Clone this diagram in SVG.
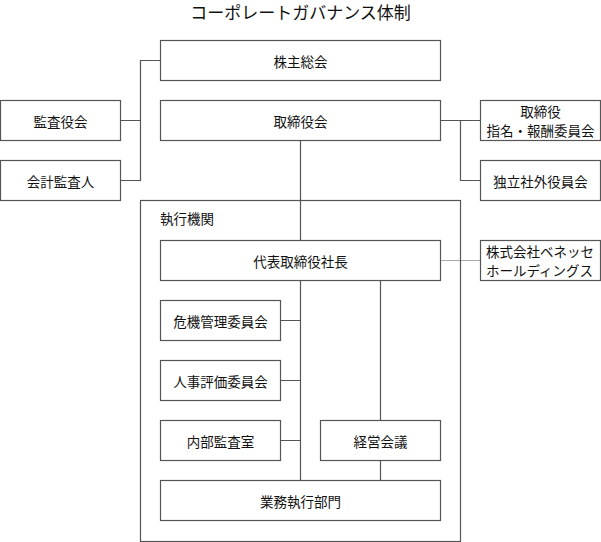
<svg xmlns="http://www.w3.org/2000/svg" width="601" height="542" viewBox="0 0 601 542">
<style>
.b{fill:#fff;stroke:#555;stroke-width:1.2}
.l{fill:none;stroke:#555;stroke-width:1.2}
.d{fill:none;stroke:#555;stroke-width:1;stroke-dasharray:1 1}
text{font-family:"Noto Sans CJK JP","Noto Sans CJK SC",sans-serif;font-size:13.5px;fill:#111;text-anchor:middle;dominant-baseline:central}
.t{font-size:17px}
.s{text-anchor:start}
</style>
<rect width="601" height="542" fill="#fff"/>
<text class="t" x="300.5" y="11">コーポレートガバナンス体制</text>
<g id="executive-frame"><rect class="b" x="140.5" y="200.5" width="320" height="341"/><text class="s" x="160" y="218">執行機関</text></g>
<g id="connectors">
<path class="l" d="M160.5 60.5H140.5V180.5H120.5M120.5 120.5H140.5"/>
<path class="l" d="M440.5 120.5H480.5M460.5 120.5V180.5H480.5"/>
<path class="l" d="M300.5 140.5V240.5M300.5 280.5V480.5M280.5 320.5H300.5M280.5 380.5H300.5M280.5 440.5H300.5"/>
<path class="l" d="M380.5 280.5V420.5M380.5 460.5V480.5"/>
<path class="d" d="M440.5 260.5H480.5"/>
</g>
<g id="shareholders"><rect class="b" x="160.5" y="40.5" width="280" height="40"/><text x="300.5" y="60.5">株主総会</text></g>
<g id="audit-board"><rect class="b" x="0.5" y="100.5" width="120" height="40"/><text x="60.5" y="120.5">監査役会</text></g>
<g id="board"><rect class="b" x="160.5" y="100.5" width="280" height="40"/><text x="300.5" y="120.5">取締役会</text></g>
<g id="nomination"><rect class="b" x="480.5" y="100.5" width="120" height="40"/><text x="540.5" y="111">取締役</text><text x="540.5" y="130">指名・報酬委員会</text></g>
<g id="auditor"><rect class="b" x="0.5" y="160.5" width="120" height="40"/><text x="60.5" y="180.5">会計監査人</text></g>
<g id="independent"><rect class="b" x="480.5" y="160.5" width="120" height="40"/><text x="540.5" y="180.5">独立社外役員会</text></g>
<g id="president"><rect class="b" x="160.5" y="240.5" width="280" height="40"/><text x="300.5" y="260.5">代表取締役社長</text></g>
<g id="holdings"><rect class="b" x="480.5" y="240.5" width="120" height="40"/><text class="s" x="486" y="251">株式会社ベネッセ</text><text class="s" x="486" y="270">ホールディングス</text></g>
<g id="risk"><rect class="b" x="160.5" y="300.5" width="120" height="40"/><text x="220.5" y="320.5">危機管理委員会</text></g>
<g id="hr"><rect class="b" x="160.5" y="360.5" width="120" height="40"/><text x="220.5" y="380.5">人事評価委員会</text></g>
<g id="internal-audit"><rect class="b" x="160.5" y="420.5" width="120" height="40"/><text x="220.5" y="440.5">内部監査室</text></g>
<g id="management"><rect class="b" x="320.5" y="420.5" width="120" height="40"/><text x="380.5" y="440.5">経営会議</text></g>
<g id="operations"><rect class="b" x="160.5" y="480.5" width="280" height="40"/><text x="300.5" y="500.5">業務執行部門</text></g>
</svg>
